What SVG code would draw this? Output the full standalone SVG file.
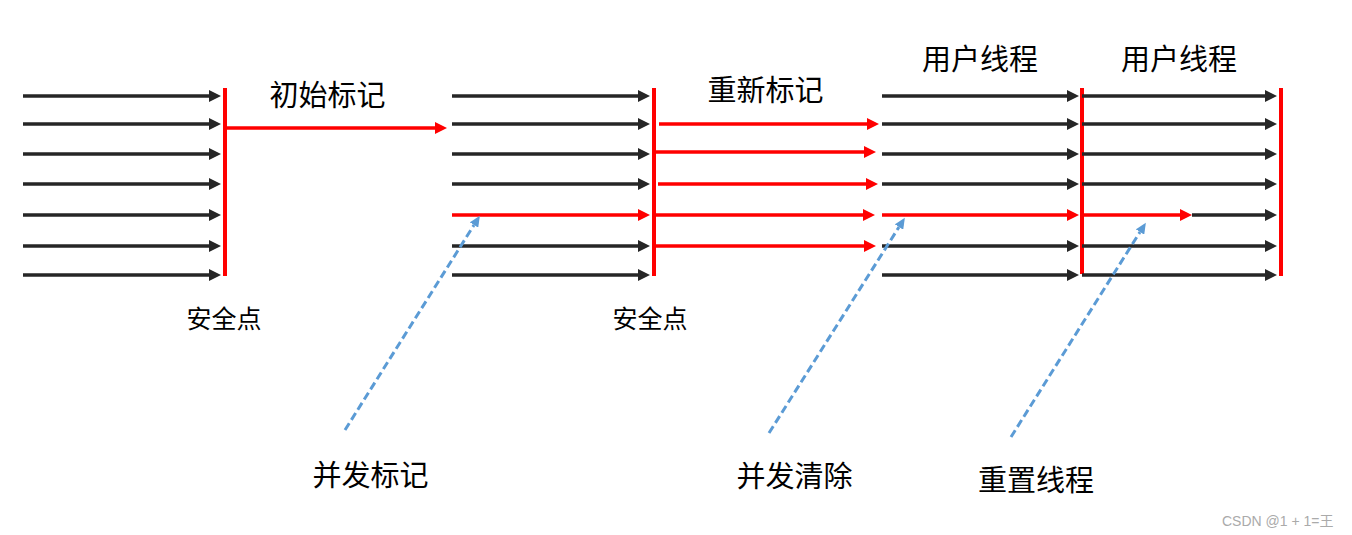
<svg xmlns="http://www.w3.org/2000/svg" width="1352" height="535" viewBox="0 0 1352 535">
<style>
.blk{stroke:#262626;stroke-width:3.5;fill:none;marker-end:url(#hb)}
.red{stroke:#FF0000;stroke-width:3.5;fill:none;marker-end:url(#hr)}
.bar{stroke:#FF0000;stroke-width:4;fill:none}
.dash{stroke:#5B9BD5;stroke-width:3;fill:none;stroke-dasharray:8 4;marker-end:url(#hd)}
.lbl{font-family:"Noto Sans CJK SC","Microsoft YaHei",sans-serif;font-size:29px;fill:#000;text-anchor:middle}
.sm{font-family:"Noto Sans CJK SC","Microsoft YaHei",sans-serif;font-size:25px;fill:#000;text-anchor:middle}
.wm{font-family:"Liberation Sans","Noto Sans CJK SC",sans-serif;font-size:14px;fill:#aaaaaa}
</style>
<defs>
<marker id="hb" markerUnits="userSpaceOnUse" markerWidth="12" markerHeight="12" refX="0" refY="6" orient="auto"><path d="M0,0 L12,6 L0,12 z" fill="#262626"/></marker>
<marker id="hr" markerUnits="userSpaceOnUse" markerWidth="12" markerHeight="12" refX="0" refY="6" orient="auto"><path d="M0,0 L12,6 L0,12 z" fill="#FF0000"/></marker>
<marker id="hd" markerUnits="userSpaceOnUse" markerWidth="11" markerHeight="10" refX="0" refY="5" orient="auto"><path d="M0,0 L11,5 L0,10 z" fill="#5B9BD5"/></marker>
</defs>
<g id="connectors">
<g id="group1">
<path class="blk" d="M23,96 H209"/>
<path class="blk" d="M23,124 H209"/>
<path class="blk" d="M23,154 H209"/>
<path class="blk" d="M23,184 H209"/>
<path class="blk" d="M23,215 H209"/>
<path class="blk" d="M23,246 H209"/>
<path class="blk" d="M23,275 H209"/>
</g>
<path class="red" d="M227,128 H435"/>
<g id="group2">
<path class="blk" d="M452,96 H638"/>
<path class="blk" d="M452,124 H638"/>
<path class="blk" d="M452,154 H638"/>
<path class="blk" d="M452,184 H638"/>
<path class="red" d="M452,215 H638"/>
<path class="blk" d="M452,246 H638"/>
<path class="blk" d="M452,275 H638"/>
</g>
<g id="remark-arrows">
<path class="red" d="M659,124 H867"/>
<path class="red" d="M654,152 H864"/>
<path class="red" d="M658,184 H866"/>
<path class="red" d="M654,215 H863"/>
<path class="red" d="M654,246 H864"/>
</g>
<g id="group3">
<path class="blk" d="M882,96 H1067"/>
<path class="blk" d="M882,124 H1067"/>
<path class="blk" d="M882,154 H1067"/>
<path class="blk" d="M882,184 H1067"/>
<path class="red" d="M882,215 H1067"/>
<path class="blk" d="M882,246 H1067"/>
<path class="blk" d="M882,275 H1067"/>
</g>
<g id="bars">
<path class="bar" d="M225,88 V276"/>
<path class="bar" d="M654,88 V276"/>
<path class="bar" d="M1082,88 V274"/>
<path class="bar" d="M1281,88 V276"/>
</g>
<g id="group4">
<path class="blk" d="M1082,96 H1265"/>
<path class="blk" d="M1082,124 H1265"/>
<path class="blk" d="M1082,154 H1265"/>
<path class="blk" d="M1082,184 H1265"/>
<path class="red" d="M1082,215 H1180"/>
<path class="blk" d="M1192,215 H1265"/>
<path class="blk" d="M1082,246 H1265"/>
<path class="blk" d="M1082,275 H1265"/>
</g>
<g id="dashed">
<path class="dash" d="M345,430 L474,225"/>
<path class="dash" d="M769,433 L899,227"/>
<path class="dash" d="M1011,437 L1140,232"/>
</g>
</g>
<g id="label-initial"><text class="lbl" x="327.5" y="106">初始标记</text></g>
<g id="label-remark"><text class="lbl" x="765.5" y="100.5">重新标记</text></g>
<g id="label-user1"><text class="lbl" x="980" y="70">用户线程</text></g>
<g id="label-user2"><text class="lbl" x="1179" y="70">用户线程</text></g>
<g id="label-safe1"><text class="sm" x="224" y="327.5">安全点</text></g>
<g id="label-safe2"><text class="sm" x="650" y="327.5">安全点</text></g>
<g id="label-cmark"><text class="lbl" x="370.5" y="485.5">并发标记</text></g>
<g id="label-csweep"><text class="lbl" x="794.5" y="487">并发清除</text></g>
<g id="label-reset"><text class="lbl" x="1036" y="491">重置线程</text></g>
<text class="wm" x="1222" y="526">CSDN @1 + 1=王</text>
</svg>
